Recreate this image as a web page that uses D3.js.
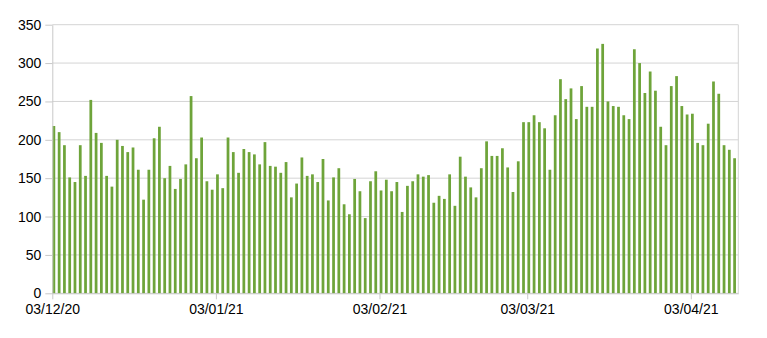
<!DOCTYPE html>
<html>
<head>
<meta charset="utf-8">
<script src="https://cdn.jsdelivr.net/npm/d3@7"></script>
<style>
  body { margin: 0; background: #fff; }
  text { font-family: "Liberation Sans", Arial, sans-serif; }
</style>
</head>
<body>
<script>
// chart data
const startDate = new Date(2020, 11, 3);
const values = [
  218, 210, 193, 151, 145, 193, 153, 252, 209, 196,
  153, 139, 200, 192, 184, 190, 161, 122, 161, 202,
  217, 150, 166, 136, 149, 168, 257, 176, 203, 146,
  135, 155, 137, 203, 184, 157, 188, 184, 181, 168,
  197, 166, 165, 157, 171, 125, 143, 177, 153, 155,
  145, 175, 121, 151, 163, 116, 103, 149, 133, 98,
  146, 159, 134, 148, 133, 145, 106, 140, 146, 155,
  152, 154, 118, 127, 123, 155, 114, 178, 152, 138,
  125, 163, 198, 179, 179, 189, 164, 132, 172, 223,
  223, 232, 223, 215, 161, 232, 279, 253, 267, 227,
  270, 243, 243, 319, 325, 250, 244, 243, 232, 227,
  318, 300, 261, 289, 264, 217, 193, 270, 283, 244,
  233, 234, 196, 193, 221, 276, 260, 193, 187, 176
];
const yTicks = [0, 50, 100, 150, 200, 250, 300, 350];
const xTickDates = [
  new Date(2020, 11, 3), new Date(2021, 0, 3), new Date(2021, 1, 3),
  new Date(2021, 2, 3), new Date(2021, 3, 3)
];

const w = 767, h = 338;
const margin = { left: 52.3, right: 767 - 738.3, top: 24.7, bottom: 338 - 293.3 };

const data = values.map((v, i) => ({ date: d3.timeDay.offset(startDate, i), value: v }));

const svg = d3.select("body").append("svg")
  .attr("width", w)
  .attr("height", h);

const endDate = d3.timeDay.offset(startDate, values.length);
const x = d3.scaleTime()
  .domain([startDate, endDate])
  .range([margin.left, w - margin.right]);

const y = d3.scaleLinear()
  .domain([0, 350])
  .range([h - margin.bottom, margin.top]);

const step = x(d3.timeDay.offset(startDate, 1)) - x(startDate);

// gridlines
svg.append("g")
  .selectAll("line")
  .data(yTicks)
  .join("line")
  .attr("x1", margin.left)
  .attr("x2", w - margin.right)
  .attr("y1", d => y(d))
  .attr("y2", d => y(d))
  .attr("stroke", "#d4d4d4")
  .attr("stroke-width", 1);

// right border
svg.append("line")
  .attr("x1", w - margin.right).attr("x2", w - margin.right)
  .attr("y1", margin.top).attr("y2", h - margin.bottom)
  .attr("stroke", "#d4d4d4");

// bars
svg.append("g")
  .selectAll("rect")
  .data(data)
  .join("rect")
  .attr("x", d => x(d.date) + 0.2)
  .attr("width", step * 0.52)
  .attr("y", d => y(d.value))
  .attr("height", d => y(0) - y(d.value))
  .attr("fill", "#6ea43a");

// y axis
const yAxis = svg.append("g")
  .attr("transform", `translate(${margin.left},0)`)
  .call(d3.axisLeft(y).tickValues(yTicks).tickSize(7).tickSizeOuter(0).tickPadding(4));
yAxis.select(".domain").attr("stroke", "#c8c8c8");
yAxis.selectAll(".tick line").attr("stroke", "#c8c8c8");
yAxis.selectAll("text").attr("font-size", 14).attr("fill", "#000");

// x axis
const xAxis = svg.append("g")
  .attr("transform", `translate(0,${h - margin.bottom})`)
  .call(d3.axisBottom(x).tickValues(xTickDates).tickFormat(d3.timeFormat("%d/%m/%y")).tickSize(6).tickSizeOuter(0).tickPadding(5));
xAxis.select(".domain").attr("stroke", "#c8c8c8");
xAxis.selectAll(".tick line").attr("stroke", "#c8c8c8");
xAxis.selectAll("text").attr("font-size", 14).attr("fill", "#000");
</script>
</body>
</html>
